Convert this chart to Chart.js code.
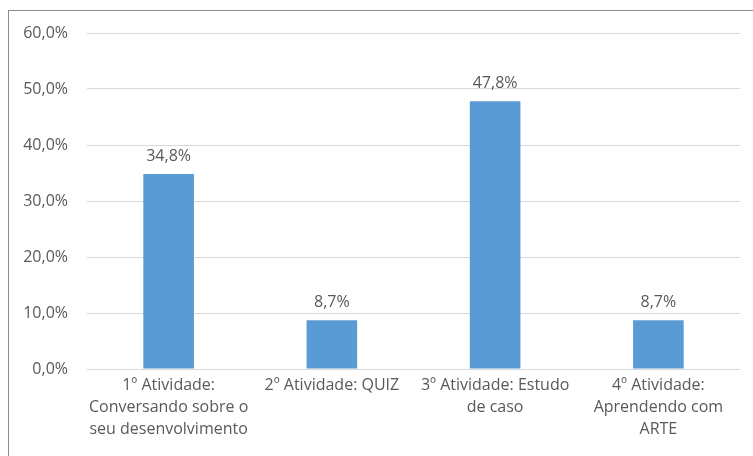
<!DOCTYPE html>
<html>
<head>
<meta charset="utf-8">
<script src="https://cdn.jsdelivr.net/npm/chart.js@4"></script>
<style>
  html, body { margin: 0; padding: 0; background: #fff; overflow: hidden; }
  #wrap { position: relative; width: 753px; height: 456px; }
  #frame { position: absolute; left: 8px; top: 10px; width: 800px; height: 500px; border: 1px solid #8c8c8c; box-sizing: border-box; pointer-events: none; }
  canvas { position: absolute; left: 0; top: 0; }
</style>
</head>
<body>
<div id="wrap">
  <canvas id="c" width="753" height="456"></canvas>
  <div id="frame"></div>
</div>
<script>
const categories = [
  ["1º Atividade:", "Conversando sobre o", "seu desenvolvimento"],
  "2º Atividade: QUIZ",
  ["3º Atividade: Estudo", "de caso"],
  ["4º Atividade:", "Aprendendo com", "ARTE"]
];
const percentages = [34.8, 8.7, 47.8, 8.7];
const yTickValues = [0, 10, 20, 30, 40, 50, 60];

const fmt = v => v.toFixed(1).replace('.', ',') + '%';
const textColor = '#595959';
const fontFamily = '"Open Sans", sans-serif';

// Writes each bar's percentage just above it
const valueLabels = {
  id: 'valueLabels',
  afterDatasetsDraw(chart) {
    const ctx = chart.ctx;
    const meta = chart.getDatasetMeta(0);
    ctx.save();
    ctx.fillStyle = textColor;
    ctx.font = '16px ' + fontFamily;
    ctx.textAlign = 'center';
    ctx.textBaseline = 'middle';
    meta.data.forEach((bar, i) => {
      ctx.fillText(fmt(chart.data.datasets[0].data[i]), bar.x, bar.y - 18);
    });
    ctx.restore();
  }
};

new Chart(document.getElementById('c'), {
  type: 'bar',
  data: {
    labels: categories,
    datasets: [{
      data: percentages,
      backgroundColor: '#5B9BD5',
      categoryPercentage: 1,
      barPercentage: 0.31
    }]
  },
  options: {
    responsive: false,
    animation: false,
    layout: { padding: { top: 33, left: 0, right: 13, bottom: 0 } },
    plugins: { legend: { display: false }, tooltip: { enabled: false } },
    scales: {
      x: {
        grid: { display: false, drawTicks: false },
        border: { display: false },
        ticks: {
          color: textColor,
          font: { family: fontFamily, size: 16, lineHeight: 1.375 },
          maxRotation: 0, minRotation: 0, autoSkip: false,
          padding: 5
        },
        afterFit(scale) { scale.height = 87; }
      },
      y: {
        min: 0, max: 60,
        afterBuildTicks(scale) { scale.ticks = yTickValues.map(v => ({ value: v })); },
        grid: { color: '#d9d9d9', drawTicks: false, lineWidth: 1 },
        border: { display: false },
        ticks: {
          color: textColor,
          font: { family: fontFamily, size: 16 },
          padding: 19,
          callback: v => fmt(v)
        },
        afterFit(scale) { scale.width = 87; }
      }
    }
  },
  plugins: [valueLabels]
});
</script>
</body>
</html>
